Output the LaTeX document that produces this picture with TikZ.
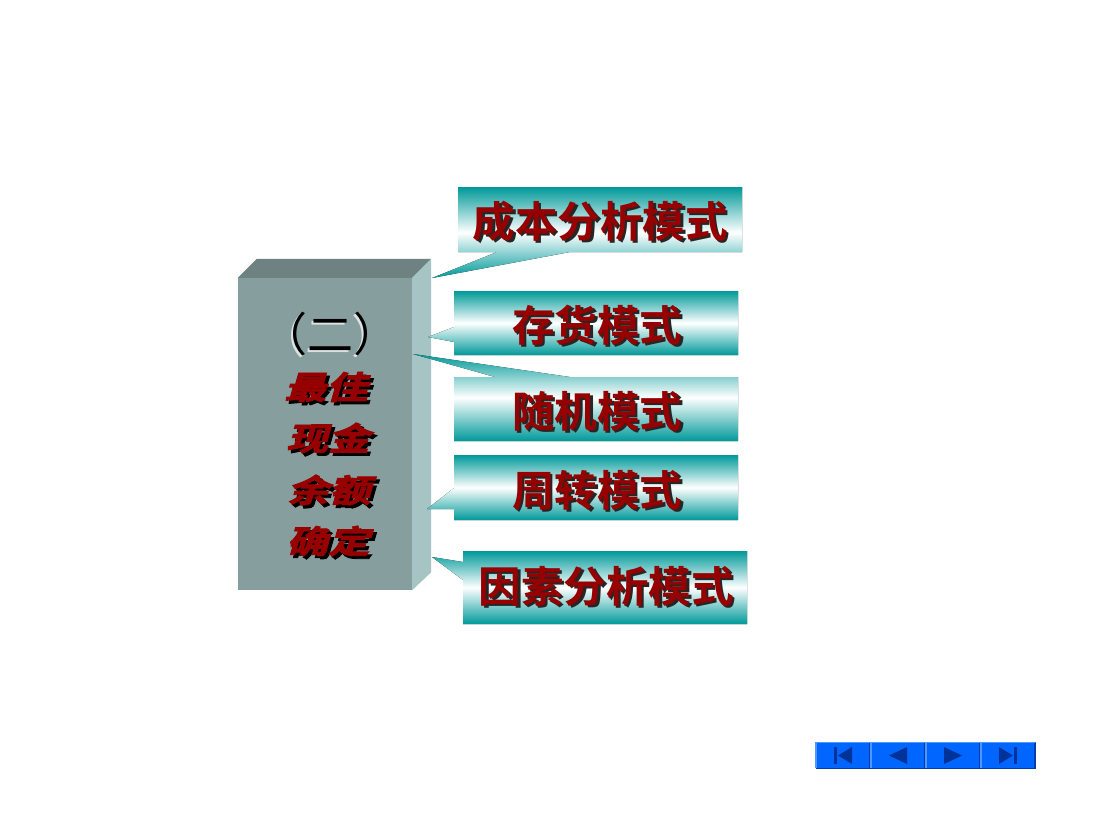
\documentclass[tikz,border=0pt]{standalone}
\usepackage{fontspec}
\newfontfamily\cjk{Noto Sans CJK SC Bold}
\newfontfamily\cjkslant{Noto Sans CJK SC Bold}[FakeSlant=0.22,FakeBold=2.5]
\newfontfamily\cjkreg{Noto Sans CJK SC}
\usetikzlibrary{calc}
\definecolor{tealc}{RGB}{0,153,153}
\definecolor{cubefront}{RGB}{135,158,158}
\definecolor{cubetop}{RGB}{110,130,130}
\definecolor{cuberight}{RGB}{166,196,196}
\definecolor{txtred}{RGB}{150,0,0}
\definecolor{navblue}{RGB}{0,102,255}
\definecolor{navlight}{RGB}{80,150,255}
\definecolor{navdark}{RGB}{0,60,170}
\definecolor{navicon}{RGB}{0,51,153}
\pgfdeclareverticalshading{callshade}{100bp}{color(0bp)=(tealc); color(25bp)=(tealc); color(50bp)=(white); color(75bp)=(tealc); color(100bp)=(tealc)}
\tikzset{
  callout/.style={shading=callshade},
  bigtxt/.style={inner sep=0pt, text=txtred, font=\cjk\fontsize{42.5}{48}\selectfont},
  bigshadow/.style={inner sep=0pt, text=black!85, font=\cjk\fontsize{42.5}{48}\selectfont},
  lefttxt/.style={inner sep=0pt, text=txtred, font=\cjkslant\fontsize{32}{36}\selectfont},
  leftshadow/.style={inner sep=0pt, text=black, font=\cjkslant\fontsize{32}{36}\selectfont},
  navbtn/.style={minimum width=55pt, minimum height=27pt, inner sep=0pt, fill=navblue},
  navico/.style={fill=navicon},
}
\newcommand{\shtext}[4]{% name, position, text, style prefix
  \node[#4shadow] (#1s) at ($(#2)+(2.5,2.5)$) {#3};
  \node[#4txt] (#1) at (#2) {#3};
}
\newcommand{\lefttext}[3]{%
  \node[leftshadow] (#1s) at ($(#2)+(3,3)$) {\scalebox{1.3}[1]{#3}};
  \node[lefttxt] (#1) at (#2) {\scalebox{1.3}[1]{#3}};
}
\begin{document}
\begin{tikzpicture}[x=1pt,y=-1pt]
\useasboundingbox[fill=white] (0,0) rectangle (1100,825);

% ---- cube ----
\node[fill=cubefront, minimum width=174pt, minimum height=312pt, inner sep=0pt] (front) at (325,434) {};
\fill[cubetop] (front.north west) -- ++(19,-19) -- ($(front.north east)+(19,-19)$) -- (front.north east) -- cycle;
\fill[cuberight] (front.north east) -- ++(19,-19) -- ($(front.south east)+(19,-18)$) -- (front.south east) -- cycle;
\coordinate (tip1) at (432,278);
\coordinate (tip2) at (428,337);
\coordinate (tip3) at (413,354);
\coordinate (tip4) at (427,509);
\coordinate (tip5) at (432,557);

% ---- callouts ----
\fill[callout] (458,187) -- (742,187) -- (742,252) -- (570,252) -- (tip1) -- (497,252) -- (458,252) -- cycle;
\fill[callout] (454,291) -- (738,291) -- (738,355) -- (454,355) -- (454,342) -- (tip2) -- (454,327) -- cycle;
\fill[callout] (454,377) -- (495,377) -- (tip3) -- (570,377) -- (738,377) -- (738,441) -- (454,441) -- cycle;
\fill[callout] (454,455) -- (738,455) -- (738,520) -- (454,520) -- (454,509) -- (tip4) -- (454,488) -- cycle;
\fill[callout] (463,551) -- (747,551) -- (747,624) -- (463,624) -- (463,580) -- (tip5) -- (463,562) -- cycle;

\coordinate (c1) at (600,221);
\coordinate (c2) at (597,325);
\coordinate (c3) at (597,411);
\coordinate (c4) at (597,490);
\coordinate (c5) at (606,586);
\shtext{t1}{c1}{成本分析模式}{big}
\shtext{t2}{c2}{存货模式}{big}
\shtext{t3}{c3}{随机模式}{big}
\shtext{t4}{c4}{周转模式}{big}
\shtext{t5}{c5}{因素分析模式}{big}

% ---- left texts ----
\node[inner sep=0pt, text=white!70!cubefront, font=\cjkreg\fontsize{46}{50}\selectfont] (parens) at (328,336) {（二）};
\node[inner sep=0pt, text=black, font=\cjkreg\fontsize{46}{50}\selectfont] (paren) at (330,334) {（二）};
\coordinate (l1) at (326,387);
\coordinate (l2) at (328,438);
\coordinate (l3) at (329,490);
\coordinate (l4) at (328,541);
\lefttext{w1}{l1}{最佳}
\lefttext{w2}{l2}{现金}
\lefttext{w3}{l3}{余额}
\lefttext{w4}{l4}{确定}

% ---- navigation buttons ----
\foreach \i/\x in {1/843,2/898,3/953,4/1008}{
  \node[navbtn] (b\i) at (\x,755.5) {};
  \draw[navlight, line width=1.5pt] ($(b\i.south west)+(0.75,-0.75)$) -- ($(b\i.north west)+(0.75,0.75)$) -- ($(b\i.north east)+(-0.75,0.75)$);
  \draw[navdark, line width=1.5pt] ($(b\i.south west)+(0.75,-0.75)$) -- ($(b\i.south east)+(-0.75,-0.75)$) -- ($(b\i.north east)+(-0.75,0.75)$);
}
\fill[navico] ($(b1.center)+(-9,-8.5)$) rectangle ($(b1.center)+(-6,8.5)$);
\fill[navico] ($(b1.center)+(-5,0)$) -- ($(b1.center)+(9,-8.5)$) -- ($(b1.center)+(9,8.5)$) -- cycle;
\fill[navico] ($(b2.center)+(-9,0)$) -- ($(b2.center)+(9,-8.5)$) -- ($(b2.center)+(9,8.5)$) -- cycle;
\fill[navico] ($(b3.center)+(9,0)$) -- ($(b3.center)+(-9,-8.5)$) -- ($(b3.center)+(-9,8.5)$) -- cycle;
\fill[navico] ($(b4.center)+(5,0)$) -- ($(b4.center)+(-9,-8.5)$) -- ($(b4.center)+(-9,8.5)$) -- cycle;
\fill[navico] ($(b4.center)+(6,-8.5)$) rectangle ($(b4.center)+(9,8.5)$);
\end{tikzpicture}
\end{document}
